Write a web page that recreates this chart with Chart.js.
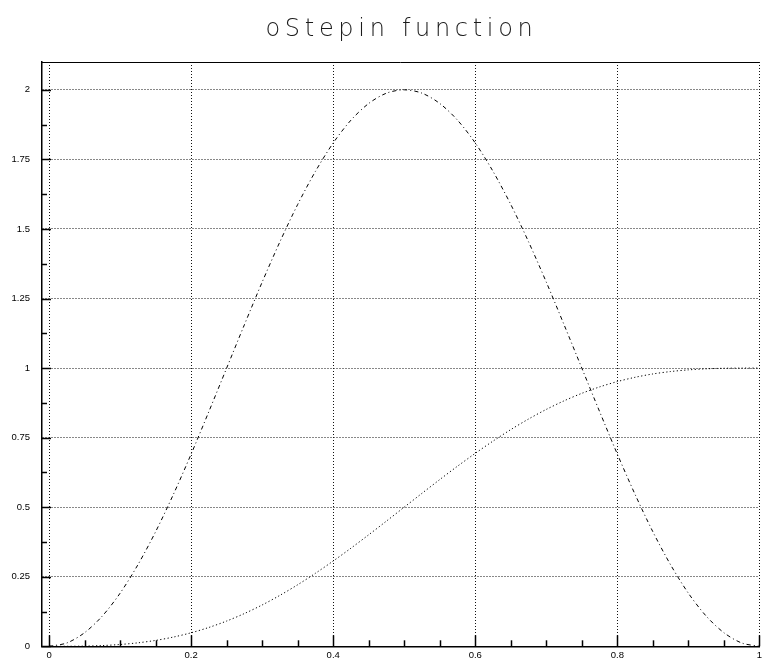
<!DOCTYPE html>
<html><head><meta charset="utf-8">
<script src="https://cdn.jsdelivr.net/npm/chart.js@4"></script>
<style>
html,body{margin:0;padding:0;background:#fff;}
#wrap{position:relative;width:765px;height:664px;}
#title{position:absolute;left:0;top:14px;width:803px;text-align:center;font-family:"DejaVu Sans",sans-serif;font-weight:200;font-size:24px;letter-spacing:4.7px;color:#1a1a1a;white-space:nowrap;}
canvas{position:absolute;left:0;top:0;}
</style></head>
<body>
<div id="wrap">
<canvas id="c" width="765" height="664"></canvas>
<div id="title">oStepin function</div>
</div>
<script>
const xValues = [0,0.025,0.05,0.075,0.1,0.125,0.15,0.175,0.2,0.225,0.25,0.275,0.3,0.325,0.35,0.375,0.4,0.425,0.45,0.475,0.5,0.525,0.55,0.575,0.6,0.625,0.65,0.675,0.7,0.725,0.75,0.775,0.8,0.825,0.85,0.875,0.9,0.925,0.95,0.975,1];
const stepValues = [0,0.0001,0.0008,0.0027,0.0065,0.0125,0.0212,0.0332,0.0486,0.0678,0.0908,0.1178,0.1486,0.1832,0.2212,0.2625,0.3065,0.3527,0.4008,0.4501,0.5,0.5499,0.5992,0.6473,0.6935,0.7375,0.7788,0.8168,0.8514,0.8822,0.9092,0.9322,0.9514,0.9668,0.9788,0.9875,0.9935,0.9973,0.9992,0.9999,1];
const derivValues = [0,0.012,0.049,0.109,0.191,0.293,0.412,0.546,0.691,0.844,1.0,1.156,1.309,1.454,1.588,1.707,1.809,1.891,1.951,1.988,2.0,1.988,1.951,1.891,1.809,1.707,1.588,1.454,1.309,1.156,1.0,0.844,0.691,0.546,0.412,0.293,0.191,0.109,0.049,0.012,0];
const xTickValues = [0,0.2,0.4,0.6,0.8,1];
const xTickLabels = ['0','0.2','0.4','0.6','0.8','1'];
const yTickValues = [0,0.25,0.5,0.75,1,1.25,1.5,1.75,2];
const yTickLabels = ['0','0.25','0.5','0.75','1','1.25','1.5','1.75','2'];
const xMinorValues = [0.05,0.1,0.15,0.25,0.3,0.35,0.45,0.5,0.55,0.65,0.7,0.75,0.85,0.9,0.95];
const yMinorValues = [0.125,0.375,0.625,0.875,1.125,1.375,1.625,1.875];

const toPts = ys => xValues.map((x,i)=>({x:x,y:ys[i]}));

const tickPlugin = {
  id:'ticksInward',
  afterDraw(chart){
    const ctx = chart.ctx, xs = chart.scales.x, ys = chart.scales.y, a = chart.chartArea;
    ctx.save();
    ctx.strokeStyle = '#000';
    ctx.lineWidth = 1;
    ctx.beginPath(); ctx.moveTo(a.left, a.top+0.5); ctx.lineTo(a.right, a.top+0.5); ctx.stroke();
    ctx.lineWidth = 1.5;
    const bx = a.bottom;
    xTickValues.forEach(v=>{const p=Math.round(xs.getPixelForValue(v))+0.5; ctx.beginPath(); ctx.moveTo(p,bx); ctx.lineTo(p,bx-11); ctx.stroke();});
    xMinorValues.forEach(v=>{const p=Math.round(xs.getPixelForValue(v))+0.5; ctx.beginPath(); ctx.moveTo(p,bx); ctx.lineTo(p,bx-6); ctx.stroke();});
    const lx = a.left;
    yTickValues.forEach(v=>{const p=Math.round(ys.getPixelForValue(v))+0.5; ctx.beginPath(); ctx.moveTo(lx,p); ctx.lineTo(lx+9,p); ctx.stroke();});
    yMinorValues.forEach(v=>{const p=Math.round(ys.getPixelForValue(v))+0.5; ctx.beginPath(); ctx.moveTo(lx,p); ctx.lineTo(lx+5,p); ctx.stroke();});
    ctx.restore();
  }
};

new Chart(document.getElementById('c'), {
  type:'scatter',
  data:{datasets:[
    {label:'oStepin derivative', data:toPts(derivValues), showLine:true, pointRadius:0, borderColor:'#000', borderWidth:1, borderDash:[4,3,1,3], tension:0.3, fill:false},
    {label:'oStepin', data:toPts(stepValues), showLine:true, pointRadius:0, borderColor:'#000', borderWidth:1, borderDash:[1.2,2.4], tension:0.3, fill:false}
  ]},
  options:{
    responsive:false, animation:false,
    layout:{padding:{top:62,right:3,left:0,bottom:0}},
    plugins:{legend:{display:false}, tooltip:{enabled:false}, title:{display:false}},
    scales:{
      x:{type:'linear', min:-0.01, max:1,
        afterBuildTicks(s){ s.ticks = xTickValues.map(v=>({value:v})); },
        afterFit(s){ s.height = 14; },
        grid:{color:'#111', lineWidth:1, drawTicks:false},
        border:{display:true, color:'#000', width:1.5, dash:[1,2]},
        ticks:{padding:3, maxRotation:0, autoSkip:false, color:'#000', font:{family:'"Liberation Sans", Arial, sans-serif', size:9.5},
          callback:(v)=>{const i=xTickValues.indexOf(v); return i>=0?xTickLabels[i]:'';}}
      },
      y:{type:'linear', min:0, max:2.1,
        afterBuildTicks(s){ s.ticks = yTickValues.map(v=>({value:v})); },
        afterFit(s){ s.width = 42; },
        grid:{color:'#111', lineWidth:1, drawTicks:false},
        border:{display:true, color:'#000', width:1.5, dash:[1,2]},
        ticks:{padding:12, autoSkip:false, color:'#000', font:{family:'"Liberation Sans", Arial, sans-serif', size:9.5},
          callback:(v)=>{const i=yTickValues.indexOf(v); return i>=0?yTickLabels[i]:'';}}
      }
    }
  },
  plugins:[tickPlugin]
});
</script>
</body></html>
